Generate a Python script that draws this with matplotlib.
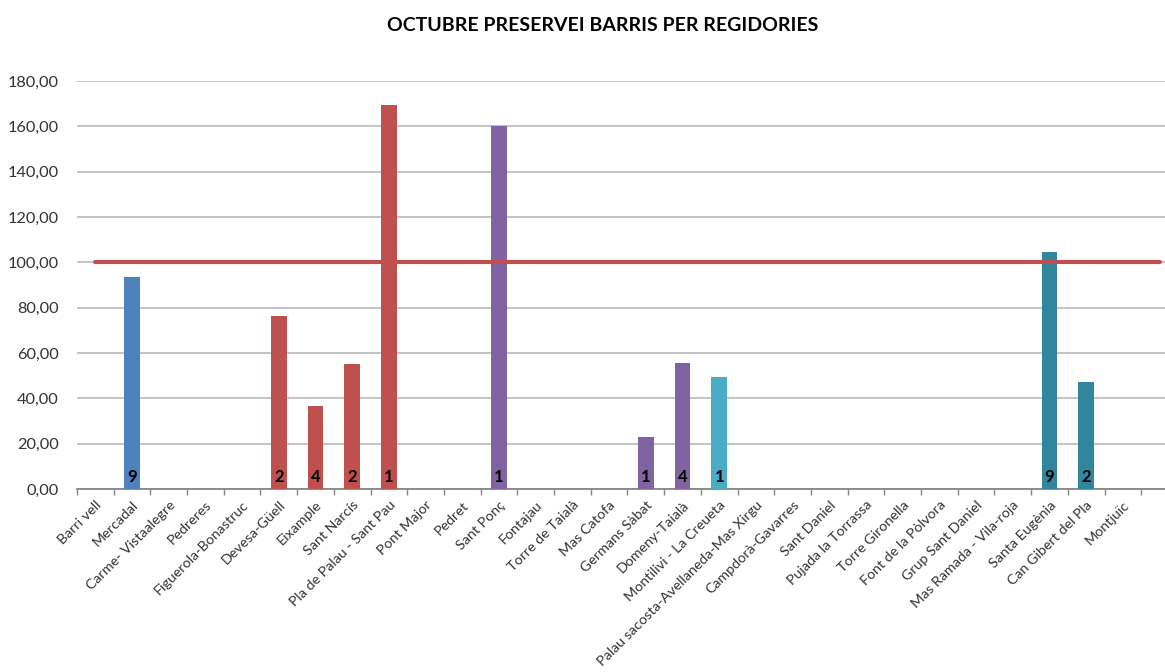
import matplotlib
matplotlib.use("Agg")
import matplotlib.pyplot as plt
from matplotlib.ticker import FuncFormatter

# Barris (30 slots on the axis, last one has no label)
barris = ["Barri vell", "Mercadal", "Carme- Vistaalegre", "Pedreres",
          "Figuerola-Bonastruc", "Devesa-Güell", "Eixample", "Sant Narcís",
          "Pla de Palau - Sant Pau", "Pont Major", "Pedret", "Sant Ponç",
          "Fontajau", "Torre de Taialà", "Mas Catofa", "Germans Sàbat",
          "Domeny-Taialà", "Montilivi - La Creueta",
          "Palau sacosta-Avellaneda-Mas Xirgu", "Campdorà-Gavarres",
          "Sant Daniel", "Pujada la Torrassa", "Torre Gironella",
          "Font de la Pòlvora", "Grup Sant Daniel", "Mas Ramada - Vila-roja",
          "Santa Eugènia", "Can Gibert del Pla", "Montjuïc", ""]

# percentatge preservei (0 = sense barra)
valors = [0, 93.6, 0, 0, 0, 76.5, 36.5, 55.2, 169.4, 0, 0, 160.0, 0, 0, 0,
          23.1, 55.6, 49.6, 0, 0, 0, 0, 0, 0, 0, 0, 104.6, 47.2, 0, 0]

# nombre de casos (etiqueta dins la barra)
etiquetes = ["", "9", "", "", "", "2", "4", "2", "1", "", "", "1", "", "", "",
             "1", "4", "1", "", "", "", "", "", "", "", "", "9", "2", "", ""]

# regidoria de cada barri
regidoria = [0, 0, 0, 0, 0, 1, 1, 1, 1, 2, 2, 2, 2, 2, 2,
             2, 2, 3, 3, 3, 3, 3, 3, 4, 4, 4, 4, 4, 4, 4]
colors_regidoria = ["#4F81BD", "#C0504D", "#8064A2", "#4BACC6", "#31859C"]

objectiu = 100

plt.rcParams['font.family'] = ['Lato', 'DejaVu Sans']

fig = plt.figure(figsize=(11.65, 6.72), dpi=100)
ax = fig.add_axes([0.0661, 0.2723, 0.945, 0.6071])

x = list(range(len(barris)))
colors = [colors_regidoria[r] for r in regidoria]
ax.bar(x, valors, width=0.43, color=colors, zorder=3)

for xi, v, t in zip(x, valors, etiquetes):
    if t:
        ax.text(xi, 1.8, t, ha='center', va='bottom', fontsize=12,
                fontweight='bold', color='black', zorder=5)

# linia objectiu
ax.plot([0, len(barris) - 1], [objectiu, objectiu], color="#C0504D",
        linewidth=3, solid_capstyle='round', zorder=4)

ax.set_xlim(-0.5, len(barris) - 0.5)
ax.set_ylim(0, 180)
ax.set_yticks(range(0, 181, 20))
ax.yaxis.set_major_formatter(FuncFormatter(lambda v, p: f"{v:.2f}".replace(".", ",")))
ax.tick_params(axis='y', length=0, pad=13, labelsize=11.8, labelcolor="#333333")

ax.set_xticks(x)
ax.set_xticklabels(barris, rotation=45, ha='right', rotation_mode='anchor',
                   fontsize=10.3, color="#333333")
ax.tick_params(axis='x', which='major', length=0, pad=7)
ax.set_xticks([i - 0.5 for i in range(len(barris) + 1)], minor=True)
ax.tick_params(axis='x', which='minor', length=4, color="#868686", width=1)

ax.grid(axis='y', color="#BEBEBE", linewidth=1.3, zorder=0)
for s in ['top', 'right', 'left']:
    ax.spines[s].set_visible(False)
ax.spines['bottom'].set_color("#868686")
ax.spines['bottom'].set_linewidth(1.3)

fig.text(0.517, 0.962, "OCTUBRE PRESERVEI BARRIS PER REGIDORIES", ha='center',
         va='center', fontsize=14, fontweight='bold', color='black')

fig.savefig("out.png", dpi=100)
